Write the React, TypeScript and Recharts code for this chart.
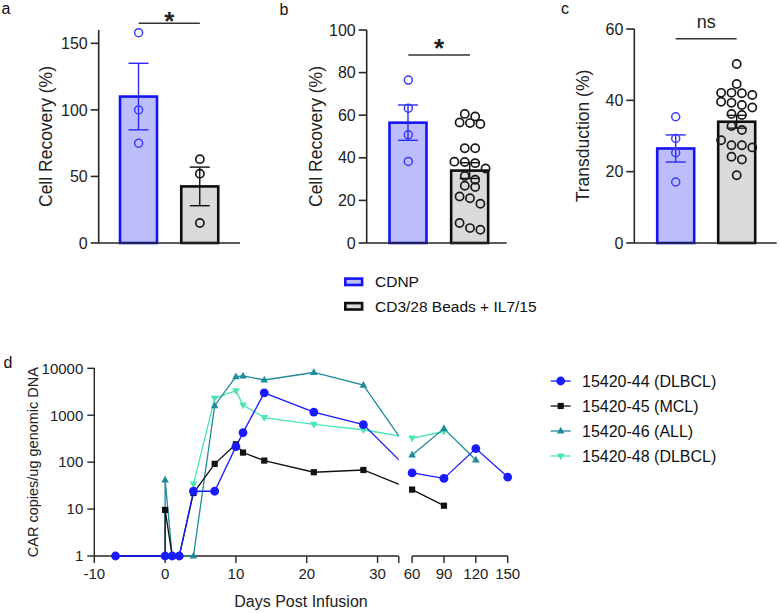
import React from "react";
import {
  ComposedChart,
  Bar,
  Line,
  Scatter,
  XAxis,
  YAxis,
  ReferenceLine,
  ReferenceArea,
} from "recharts";

const FONT = '"Liberation Sans", Arial, Helvetica, sans-serif';
const AXIS = "#262626";

// ---- panels a-c : groups ----
const groups = ["CDNP", "CD3/28 Beads + IL7/15"];

// a: cell recovery (%)
const recA_cdnp = [158, 100, 75];
const recA_beads = [63, 52, 15];
const recA_mean = [110, 42.5];
const recA_sem = [25, 14.5];

// b: cell recovery (%)
const recB_cdnp = [76.5, 63.3, 50.8, 38.3];
const recB_beads = [
  60.6, 59.4, 56.6, 56.3, 55.9, 44.5, 44.5, 38.2, 38, 37.5, 35, 31.5, 29.7,
  26.9, 26.3, 21.8, 21, 18.4, 9.4, 7, 6.2,
];
const recB_mean = [56.5, 34];
const recB_sem = [8.3, 3.7];

// c: transduction (%)
const trC_cdnp = [35.4, 29.3, 25.3, 17.1];
const trC_beads = [
  50.2, 44.6, 42.1, 42.1, 42, 41.5, 39.6, 39.3, 38.7, 38, 36.2, 35.9, 32.8,
  31.7, 28.8, 27.4, 27.4, 26.8, 24.2, 23.4, 19,
];
const trC_mean = [26.5, 34];
const trC_sem = [3.8, 1.8];

// ---- panel d : CAR copies / ug genomic DNA ----
const dNames = ["15420-44 (DLBCL)", "15420-45 (MCL)", "15420-46 (ALL)", "15420-48 (DLBCL)"];
const days44 = [-7, 0, 1, 2, 4, 7, 10, 11, 14, 21, 28, 60, 90, 120, 150];
const car44 = [1, 1, 1, 1, 24, 24, 214, 426, 3000, 1170, 630, 59, 45, 195, 48];
const days45 = [-7, 0, 0, 1, 2, 4, 7, 10, 11, 14, 21, 28, 60, 90];
const car45 = [1, 1, 9.6, 1, 1, 22, 92, 240, 160, 108, 61, 68, 26, 11.8];
const days46 = [-7, 0, 0, 1, 2, 4, 7, 10, 11, 14, 21, 28, 60, 90, 120];
const car46 = [1, 1, 42, 1, 1, 1, 1600, 6640, 6900, 5640, 8140, 4370, 142, 520, 111];
const days48 = [4, 7, 10, 11, 14, 21, 28, 60, 90];
const car48 = [34, 2300, 3300, 1650, 890, 640, 490, 324, 450];

const dayTicks = [-10, 0, 10, 20, 30, 33, 60, 90, 120, 150];
const dayTickText = ["-10", "0", "10", "20", "30", "", "60", "90", "120", "150"];
const carTicks = [1, 10, 100, 1000, 10000];

// styles
const groupFill = ["#BDBDFB", "#DADADA"];
const groupStroke = ["#1414F5", "#0d0d0d"];
const pointStroke = ["#3B3BF6", "#1a1a1a"];
const dColors = ["#1a1aff", "#111111", "#1f8b9b", "#48e6b6"];
const dMarkers = ["circle", "square", "triangle", "triangleDown"];

// broken x axis: 0..33 linear, then 60..150 compressed
const BREAK_END = 33;
const RIGHT_START = 60;
const GAP = 1.88;
const RIGHT_SCALE = 0.15;
const dispDay = (d: number) =>
  d <= BREAK_END ? d : BREAK_END + GAP + (d - RIGHT_START) * RIGHT_SCALE;

// simple row-based swarm offsets (px)
function swarm(values: number[], pxPerUnit: number, step = 10.4, rowGap = 8) {
  const idx = values.map((_, i) => i).sort((a, b) => values[b] - values[a]);
  const rows: number[][] = [];
  for (const i of idx) {
    const last = rows[rows.length - 1];
    if (last && (values[last[0]] - values[i]) * pxPerUnit < rowGap) last.push(i);
    else rows.push([i]);
  }
  const offs = new Array(values.length).fill(0);
  rows.forEach((r) =>
    r.forEach((i, j) => {
      offs[i] = (j - (r.length - 1) / 2) * step;
    })
  );
  return offs;
}

const barShape = (props: any) => {
  const { x, y, width, height, payload } = props;
  const g = payload.g;
  const k = payload.mean > 0 ? height / payload.mean : 0;
  const cx = x + width / 2;
  const top = y - payload.sem * k;
  const bot = y + payload.sem * k;
  const ec = g === 0 ? "#2a2af5" : "#111";
  return (
    <g>
      <rect x={x} y={y} width={width} height={height} fill={groupFill[g]} stroke={groupStroke[g]} strokeWidth={2.6} />
      <line x1={cx} x2={cx} y1={top} y2={bot} stroke={ec} strokeWidth={1.4} />
      <line x1={cx - 10} x2={cx + 10} y1={top} y2={top} stroke={ec} strokeWidth={1.4} />
      <line x1={cx - 10} x2={cx + 10} y1={bot} y2={bot} stroke={ec} strokeWidth={1.4} />
    </g>
  );
};

const ringShape = (g: number) => (p: any) => (
  <circle
    cx={p.cx}
    cy={p.cy}
    r={g === 0 ? 4 : 4.1}
    fill="none"
    stroke={pointStroke[g]}
    strokeWidth={g === 0 ? 1.5 : 1.7}
  />
);

function markerPath(kind: string, x: number, y: number, color: string) {
  if (kind === "circle") return <circle cx={x} cy={y} r={4.4} fill={color} />;
  if (kind === "square") return <rect x={x - 3.1} y={y - 3.1} width={6.2} height={6.2} fill={color} />;
  if (kind === "triangle")
    return <path d={`M${x},${y - 4.2}L${x + 3.8},${y + 2.6}L${x - 3.8},${y + 2.6}Z`} fill={color} />;
  return <path d={`M${x},${y + 4.2}L${x + 3.8},${y - 2.6}L${x - 3.8},${y - 2.6}Z`} fill={color} />;
}

type PanelCfg = {
  left: number;
  top: number;
  width: number;
  height: number;
  margin: { top: number; right: number; bottom: number; left: number };
  pad: { left: number; right: number };
  yMax: number;
  yTicks: number[];
  yLabel: string;
  labelOffset: number;
  sigY: number;
  sigText: string;
  sigSize: number;
  sigBold: boolean;
  sigOffset: number;
};

const YW = 60;
const XH = 20;

function BarPanel({ cfg, means, sems, cdnp, beads }: { cfg: PanelCfg; means: number[]; sems: number[]; cdnp: number[]; beads: number[] }) {
  const table = groups.map((name, g) => ({ name, g, mean: means[g], sem: sems[g] }));
  const plotW = cfg.width - cfg.margin.left - cfg.margin.right - YW;
  const plotH = cfg.height - cfg.margin.top - cfg.margin.bottom - XH;
  const band = (plotW - cfg.pad.left - cfg.pad.right) / 2;
  const pxPerUnit = plotH / cfg.yMax;
  const pts = [cdnp, beads].map((vals, g) => {
    const offs = swarm(vals, pxPerUnit);
    return vals.map((v, i) => ({ x: g + 0.5 + offs[i] / band, y: v }));
  });
  const tickStyle = { fontSize: 16, fill: "#222", fontFamily: FONT };
  return (
    <div style={{ position: "absolute", left: cfg.left, top: cfg.top }}>
      <ComposedChart width={cfg.width} height={cfg.height} data={table} margin={cfg.margin}>
        <XAxis
          xAxisId="cat"
          dataKey="name"
          type="category"
          height={XH}
          padding={cfg.pad}
          tick={false}
          tickSize={9}
          axisLine={{ stroke: AXIS, strokeWidth: 1.6 }}
          tickLine={{ stroke: AXIS, strokeWidth: 1.6 }}
        />
        <XAxis xAxisId="num" dataKey="x" type="number" domain={[0, 2]} padding={cfg.pad} hide />
        <YAxis
          type="number"
          domain={[0, cfg.yMax]}
          ticks={cfg.yTicks}
          width={YW}
          tickSize={8}
          tickMargin={3}
          tick={tickStyle}
          axisLine={{ stroke: AXIS, strokeWidth: 1.6 }}
          tickLine={{ stroke: AXIS, strokeWidth: 1.6 }}
          label={{
            value: cfg.yLabel,
            angle: -90,
            position: "insideLeft",
            offset: cfg.labelOffset,
            style: { textAnchor: "middle", fontSize: 17.5, fill: "#222", fontFamily: FONT },
          }}
        />
        <Bar xAxisId="cat" dataKey="mean" barSize={37} shape={barShape} isAnimationActive={false} />
        {pts.map((d, g) => (
          <Scatter key={g} xAxisId="num" data={d} dataKey="y" shape={ringShape(g)} isAnimationActive={false} />
        ))}
        <ReferenceLine
          xAxisId="num"
          segment={[
            { x: 0.5, y: cfg.sigY },
            { x: 1.5, y: cfg.sigY },
          ]}
          stroke="#333"
          strokeWidth={1.5}
          ifOverflow="visible"
          label={{
            value: cfg.sigText,
            position: "top",
            offset: cfg.sigOffset,
            style: { fontSize: cfg.sigSize, fontWeight: cfg.sigBold ? "bold" : "normal", fill: "#222", fontFamily: FONT },
          }}
        />
      </ComposedChart>
    </div>
  );
}

const cfgA: PanelCfg = {
  left: 0, top: 0, width: 250, height: 270,
  margin: { top: 30, right: 10, bottom: 7, left: 38.7 },
  pad: { left: 9.3, right: 9.5 },
  yMax: 160, yTicks: [0, 50, 100, 150], yLabel: "Cell Recovery (%)", labelOffset: 7,
  sigY: 165, sigText: "*", sigSize: 26, sigBold: true, sigOffset: -6.6,
};
const cfgB: PanelCfg = {
  left: 250, top: 0, width: 262, height: 270,
  margin: { top: 30, right: 5.3, bottom: 7, left: 56.7 },
  pad: { left: 10.8, right: 5.9 },
  yMax: 100, yTicks: [0, 20, 40, 60, 80, 100], yLabel: "Cell Recovery (%)", labelOffset: 9,
  sigY: 88.3, sigText: "*", sigSize: 26, sigBold: true, sigOffset: -1.6,
};
const cfgC: PanelCfg = {
  left: 520, top: 0, width: 260, height: 270,
  margin: { top: 29, right: 3.3, bottom: 7, left: 54.3 },
  pad: { left: 10.9, right: 9.5 },
  yMax: 60, yTicks: [0, 20, 40, 60], yLabel: "Transduction (%)", labelOffset: 8,
  sigY: 57.3, sigText: "ns", sigSize: 18, sigBold: false, sigOffset: 10.4,
};

function PanelD() {
  const days = [days44, days45, days46, days48];
  const cars = [car44, car45, car46, car48];
  const series = days.map((ds, s) => ds.map((d, i) => ({ x: dispDay(d), y: cars[s][i] })));
  const order = [3, 2, 1, 0];
  const xTicks = dayTicks.map(dispDay);
  const fmtX = (v: number) => {
    const i = xTicks.findIndex((t) => Math.abs(t - v) < 1e-6);
    return i >= 0 ? dayTickText[i] : "";
  };
  const tickStyle = { fontSize: 15, fill: "#222", fontFamily: FONT };
  return (
    <div style={{ position: "absolute", left: 0, top: 340 }}>
      <ComposedChart width={520} height={273} margin={{ top: 28.3, right: 12.3, bottom: 0, left: 24.3 }}>
        <XAxis
          type="number"
          dataKey="x"
          domain={[-10, dispDay(150)]}
          ticks={xTicks}
          tickFormatter={fmtX}
          height={57}
          tickSize={7}
          tickMargin={5}
          tick={tickStyle}
          axisLine={false}
          tickLine={{ stroke: AXIS, strokeWidth: 1.4 }}
          label={{
            value: "Days Post Infusion",
            position: "insideBottom",
            offset: 5.6,
            style: { fontSize: 16, fill: "#222", fontFamily: FONT },
          }}
        />
        <YAxis
          type="number"
          scale="log"
          domain={[1, 10000]}
          ticks={carTicks}
          width={70}
          tickSize={7}
          tickMargin={4}
          tick={tickStyle}
          axisLine={{ stroke: AXIS, strokeWidth: 1.4 }}
          tickLine={{ stroke: AXIS, strokeWidth: 1.4 }}
          label={{
            value: "CAR copies/ug genomic DNA",
            angle: -90,
            position: "insideLeft",
            offset: 8.2,
            style: { textAnchor: "middle", fontSize: 14.5, fill: "#222", fontFamily: FONT },
          }}
        />
        <ReferenceLine
          segment={[
            { x: -10, y: 1 },
            { x: BREAK_END, y: 1 },
          ]}
          stroke={AXIS}
          strokeWidth={1.4}
        />
        <ReferenceLine
          segment={[
            { x: dispDay(RIGHT_START), y: 1 },
            { x: dispDay(150), y: 1 },
          ]}
          stroke={AXIS}
          strokeWidth={1.4}
        />
        {order.map((s) => (
          <Line
            key={"l" + s}
            data={series[s]}
            dataKey="y"
            type="linear"
            stroke={dColors[s]}
            strokeWidth={1.3}
            dot={false}
            activeDot={false}
            isAnimationActive={false}
          />
        ))}
        <ReferenceArea
          x1={BREAK_END}
          x2={dispDay(RIGHT_START)}
          y1={1}
          y2={10000}
          fill="#ffffff"
          fillOpacity={1}
          stroke="none"
          zIndex={450}
        />
        {order.map((s) => (
          <Scatter
            key={"m" + s}
            data={series[s]}
            dataKey="y"
            shape={(p: any) => markerPath(dMarkers[s], p.cx, p.cy, dColors[s])}
            isAnimationActive={false}
            zIndex={600}
          />
        ))}
      </ComposedChart>
    </div>
  );
}

function Overlay() {
  const letter = { fontSize: 16, fill: "#111", fontFamily: FONT };
  return (
    <svg width={780} height={613} style={{ position: "absolute", left: 0, top: 0, pointerEvents: "none" }}>
      <text x={1.5} y={14} {...letter}>a</text>
      <text x={279.5} y={15} {...letter}>b</text>
      <text x={561} y={13.5} {...letter}>c</text>
      <text x={3.5} y={367.7} {...letter}>d</text>
      {groups.map((name, g) => (
        <g key={name}>
          <rect
            x={345.3}
            y={278.6 + g * 24.5}
            width={16.8}
            height={6.4}
            fill={groupFill[g]}
            stroke={groupStroke[g]}
            strokeWidth={2.6}
          />
          <text x={375} y={287.3 + g * 24.5} fontSize={15.5} fill="#111" fontFamily={FONT}>
            {name}
          </text>
        </g>
      ))}
      {dNames.map((name, s) => {
        const cy = 381 + s * 25;
        return (
          <g key={name}>
            <line x1={550.7} x2={570.7} y1={cy} y2={cy} stroke={dColors[s]} strokeWidth={1.3} />
            {markerPath(dMarkers[s], 560.7, cy, dColors[s])}
            <text x={582} y={cy + 5.7} fontSize={16} fill="#111" fontFamily={FONT}>
              {name}
            </text>
          </g>
        );
      })}
    </svg>
  );
}

export default function App() {
  return (
    <div style={{ position: "absolute", left: 0, top: 0, width: 780, height: 613, background: "#fff", fontFamily: FONT }}>
      <Overlay />
      <BarPanel cfg={cfgA} means={recA_mean} sems={recA_sem} cdnp={recA_cdnp} beads={recA_beads} />
      <BarPanel cfg={cfgB} means={recB_mean} sems={recB_sem} cdnp={recB_cdnp} beads={recB_beads} />
      <BarPanel cfg={cfgC} means={trC_mean} sems={trC_sem} cdnp={trC_cdnp} beads={trC_beads} />
      <PanelD />
    </div>
  );
}
